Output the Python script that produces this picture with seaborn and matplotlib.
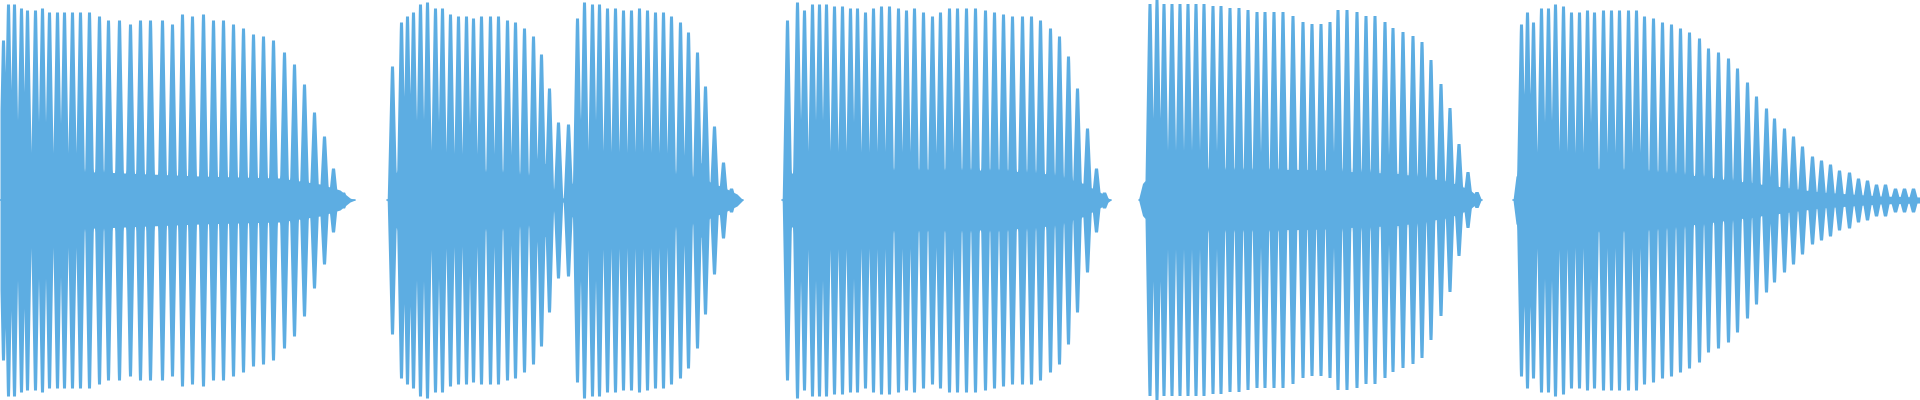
import matplotlib
matplotlib.use("Agg")
import matplotlib.pyplot as plt
import numpy as np
import pandas as pd
import seaborn as sns

# Waveform colour
WAVE = "#5DADE2"

# Time axis in ms (whole clip 1920 ms), amplitude normalised to +-1
clip_starts = [0, 387, 782, 1139, 1513]
clip_ends = [355, 743, 1111, 1482, 1920]

# Peak (pulse) times and amplitudes, one list per clip
peak_t_a = [3, 8, 14, 21, 27, 35, 42, 49, 57, 64, 72, 80, 89, 99, 108, 119, 130, 140, 150, 162,
            172, 182, 192, 203, 213, 223, 233, 243, 253, 263, 273, 284, 294, 304, 314, 324, 333, 343]
peak_a_a = [0.80, 0.98, 0.98, 0.96, 0.95, 0.95, 0.96, 0.94, 0.94, 0.94, 0.94, 0.94, 0.94, 0.92, 0.90,
            0.90, 0.88, 0.90, 0.90, 0.90, 0.88, 0.93, 0.92, 0.93, 0.90, 0.90, 0.88, 0.86, 0.83, 0.82,
            0.80, 0.74, 0.68, 0.58, 0.44, 0.32, 0.16, 0.04]

peak_t_b = [392, 401, 407, 413, 420, 427, 435, 442, 450, 458, 466, 473, 481, 490, 498, 507, 515, 524,
            533, 541, 549, 558, 568,
            577, 584, 592, 599, 607, 615, 623, 631, 639, 647, 655, 663, 671, 680, 688, 697, 705, 714,
            723, 731]
peak_a_b = [0.67, 0.89, 0.92, 0.94, 0.98, 0.99, 0.96, 0.96, 0.93, 0.92, 0.92, 0.91, 0.92, 0.92, 0.92,
            0.90, 0.89, 0.86, 0.82, 0.73, 0.56, 0.39, 0.38,
            0.91, 0.99, 0.98, 0.98, 0.96, 0.96, 0.95, 0.95, 0.96, 0.95, 0.94, 0.94, 0.92, 0.89, 0.84,
            0.74, 0.57, 0.37, 0.19, 0.06]

peak_t_c = [787, 797, 804, 812, 819, 826, 834, 842, 850, 857, 865, 873, 881, 889, 898, 906, 914, 923,
            932, 940, 949, 957, 966, 975, 985, 994, 1003, 1012, 1022, 1031, 1040, 1050, 1059, 1068,
            1077, 1087, 1096, 1104]
peak_a_c = [0.90, 0.99, 0.95, 0.98, 0.98, 0.98, 0.97, 0.97, 0.96, 0.96, 0.94, 0.96, 0.97, 0.97, 0.96,
            0.95, 0.96, 0.94, 0.92, 0.94, 0.96, 0.96, 0.96, 0.96, 0.95, 0.94, 0.93, 0.92, 0.92, 0.92,
            0.90, 0.86, 0.82, 0.72, 0.56, 0.36, 0.16, 0.04]

peak_t_d = [1150, 1157, 1164, 1172, 1180, 1188, 1196, 1204, 1213, 1221, 1230, 1239, 1248, 1257, 1265,
            1274, 1283, 1293, 1303, 1312, 1321, 1330, 1338, 1347, 1357, 1366, 1375, 1385, 1393, 1403,
            1413, 1422, 1431, 1441, 1450, 1459, 1468, 1477]
peak_a_d = [0.98, 1.00, 0.98, 0.98, 0.98, 0.98, 0.98, 0.98, 0.97, 0.97, 0.96, 0.96, 0.95, 0.94, 0.94,
            0.94, 0.94, 0.92, 0.89, 0.88, 0.88, 0.89, 0.95, 0.95, 0.94, 0.92, 0.92, 0.89, 0.86, 0.84,
            0.82, 0.79, 0.70, 0.58, 0.46, 0.28, 0.14, 0.04]

peak_t_e = [1521, 1527, 1533, 1541, 1548, 1555, 1563, 1571, 1579, 1587, 1594, 1603, 1611, 1619, 1628,
            1636, 1644, 1653, 1662, 1671, 1680, 1689, 1699, 1708, 1718, 1728, 1737, 1747, 1756, 1766,
            1774, 1784, 1793, 1802, 1812, 1821, 1830, 1839, 1849, 1858, 1867, 1876, 1885, 1895, 1904,
            1913]
peak_a_e = [0.88, 0.94, 0.89, 0.96, 0.96, 0.98, 0.97, 0.94, 0.94, 0.95, 0.94, 0.95, 0.95, 0.95, 0.95,
            0.95, 0.92, 0.91, 0.89, 0.88, 0.86, 0.84, 0.81, 0.76, 0.74, 0.71, 0.66, 0.59, 0.52, 0.46,
            0.41, 0.36, 0.32, 0.27, 0.22, 0.20, 0.18, 0.15, 0.14, 0.11, 0.10, 0.08, 0.08, 0.06, 0.06,
            0.06]

# Level of the dense low-amplitude body between pulses (knot times, amplitudes)
body_t_a = [0, 100, 200, 280, 320, 340, 350, 355]
body_a_a = [0.15, 0.14, 0.12, 0.11, 0.08, 0.05, 0.01, 0.0]
body_t_b = [387, 390, 400, 500, 535, 550, 554, 558, 563, 570, 578, 600, 680, 705, 725, 737, 743]
body_a_b = [0.0, 0.12, 0.15, 0.14, 0.12, 0.08, 0.01, 0.05, 0.01, 0.06, 0.14, 0.15, 0.13, 0.10, 0.06,
            0.03, 0.0]
body_t_c = [782, 784, 800, 1000, 1050, 1080, 1100, 1111]
body_a_c = [0.0, 0.12, 0.15, 0.15, 0.13, 0.09, 0.04, 0.0]
body_t_d = [1139, 1143, 1155, 1300, 1400, 1450, 1470, 1482]
body_a_d = [0.0, 0.08, 0.15, 0.15, 0.13, 0.09, 0.05, 0.0]
body_t_e = [1513, 1516, 1530, 1640, 1700, 1760, 1820, 1880, 1920]
body_a_e = [0.0, 0.12, 0.16, 0.15, 0.12, 0.08, 0.04, 0.02, 0.015]

clips = [
    (peak_t_a, peak_a_a, body_t_a, body_a_a),
    (peak_t_b, peak_a_b, body_t_b, body_a_b),
    (peak_t_c, peak_a_c, body_t_c, body_a_c),
    (peak_t_d, peak_a_d, body_t_d, body_a_d),
    (peak_t_e, peak_a_e, body_t_e, body_a_e),
]

sns.set_theme(style="white")
fig = plt.figure(figsize=(19.2, 4), dpi=100)
ax = fig.add_axes([0, 0, 1, 1])

# pulse shape: flat top, then falling flank down to the body
top_w = 1.6
half_w = 4.8
sharp = 1.0

for (start, end), (pt, pa, bt, ba) in zip(zip(clip_starts, clip_ends), clips):
    t = np.arange(start, end + 0.01, 0.25)
    env = np.interp(t, bt, ba)
    for ti, ai in zip(pt, pa):
        d = np.abs(t - ti)
        frac = np.clip((half_w - d) / (half_w - top_w), 0, 1)
        env = np.maximum(env, ai * frac ** sharp)
    ax.fill_between(t, -env, env, color=WAVE, linewidth=0)
    # zero line of the clip
    base = pd.DataFrame({"t": [start, end], "v": [0.0, 0.0]})
    sns.lineplot(data=base, x="t", y="v", ax=ax, color=WAVE, linewidth=1.2)

ax.set_xlim(0, 1920)
ax.set_ylim(-1, 1)
ax.axis("off")

plt.savefig("out.png", dpi=100)
